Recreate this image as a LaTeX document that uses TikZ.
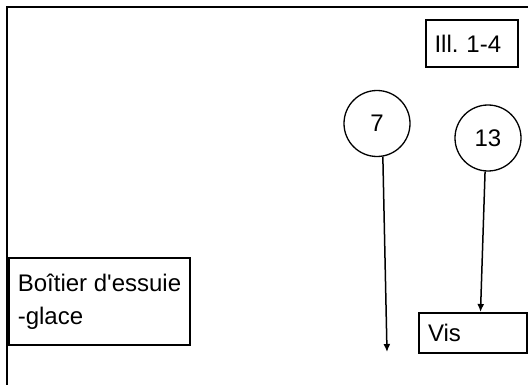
\documentclass[tikz,border=0pt]{standalone}
\usepackage{fontspec}
\setmainfont{Liberation Sans}
\usepackage{tikz}
\usetikzlibrary{positioning}
\usetikzlibrary{shapes, arrows.meta}

\begin{document}
\begin{tikzpicture}[x=1pt, y=-1pt, font=\fontsize{24}{33}\selectfont,
		box/.style={draw, line width=2pt, align=left},
		ref/.style={draw, circle, line width=1.3pt, minimum size=66pt, inner sep=0pt},
		line/.style={draw, -{Latex[length=8pt, width=7pt]}, line width=1.5pt}]
			\useasboundingbox (0, 0) rectangle (528, 385);
			
			% frame of the illustration
			\draw[line width=2pt] (528, 7) -- (7, 7) -- (7, 385);
			
			\node[box, text width=75pt, inner xsep=8.5pt, minimum height=47pt] at (472, 43.5) (ill) {Ill.\ 1-4};
			
			\node[ref] at (377, 123.5) (c7) {7};
			\node[ref] at (488, 138) (c13) {13};
			
			\node[box, minimum width=181pt, minimum height=87pt] at (99.5, 301.5) (boitier) {Boîtier d\textquotesingle essuie\\-glace};
			\node[box, text width=90pt, inner xsep=9pt, minimum height=40pt] at (473, 333) (vis) {Vis};
			
			\coordinate (p7) at (387, 352);
			
			\path [line] (c7.-80) -- (p7);
			\path [line] (c13.-95) -- ([xshift=7.5pt]vis.north);
			
		\end{tikzpicture}
\end{document}
